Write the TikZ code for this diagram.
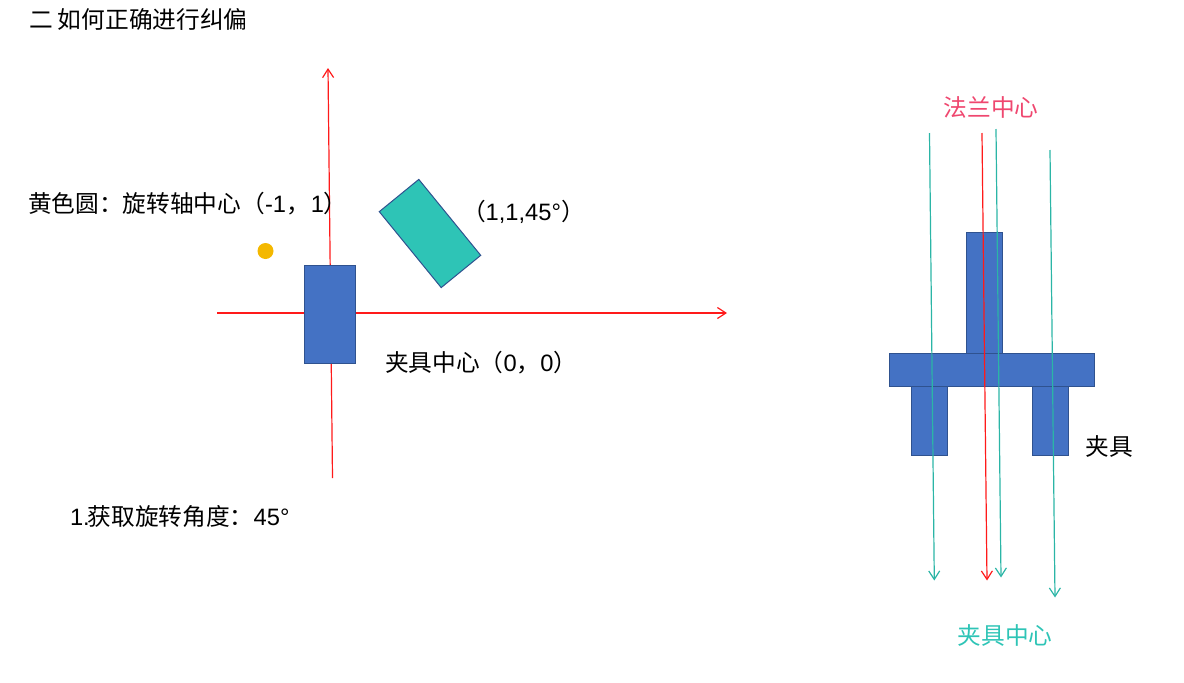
\documentclass[tikz,border=0pt]{standalone}
\usepackage{fontspec}
\setmainfont{Liberation Sans}
\newfontfamily\cjk{Noto Sans CJK SC}
\usetikzlibrary{arrows.meta}
\definecolor{axisred}{HTML}{FF1A1A}
\definecolor{partblue}{HTML}{4472C4}
\definecolor{partedge}{HTML}{2F528F}
\definecolor{tealfill}{HTML}{2EC4B6}
\definecolor{tealline}{HTML}{2BB5A6}
\definecolor{dotyellow}{HTML}{F4B800}
\definecolor{flangered}{HTML}{EF476F}
\tikzset{
  x=1pt,y=-1pt,
  part/.style={draw=partedge,fill=partblue,line width=1pt,inner sep=0,outer sep=0},
  redarrow/.style={draw=axisred,line width=1.2pt,-{Straight Barb[length=8.5pt,width=11pt,line width=1.2pt]}},
  tealarrow/.style={draw=tealline,line width=1.2pt,-{Straight Barb[length=8.5pt,width=11pt,line width=1.2pt]}},
  label/.style={inner sep=0,outer sep=0,anchor=west,text=black,font=\fontsize{23.7}{24}\selectfont},
}
\begin{document}
\begin{tikzpicture}
\useasboundingbox (0,0) rectangle (1184,683);
% left axes
\coordinate (vs) at (332.5,478);
\coordinate (ve) at (328,68);
\coordinate (hs) at (217,313);
\coordinate (he) at (727,313);
\draw[redarrow] (vs) -- (ve);
\draw[redarrow] (hs) -- (he);
\node[part,minimum width=51.5pt,minimum height=98pt] (clamp) at (330,314) {};
\node[draw=partedge,fill=tealfill,line width=1pt,inner sep=0,minimum width=98pt,minimum height=51pt,rotate=-50.8] (target) at (430,233.5) {};
\node[circle,fill=dotyellow,inner sep=0,minimum size=16pt] (dot) at (265.5,251) {};
% left labels
\node[label] (title) at (29,19) {{\cjk 二 如何正确进行纠偏}};
\node[label] (yl) at (28,204) {{\cjk 黄色圆：旋转轴中心（}-1{\cjk ，}\hspace{1pt}1{\cjk ）}};
\node[label] (tl) at (462,212) {{\cjk （}1,1,45°{\cjk ）}};
\node[label] (cl) at (385,363) {{\cjk 夹具中心（}0{\cjk ，}0{\cjk ）}};
\node[label] (al) at (70,517) {1.\hspace{-2pt}{\cjk 获取旋转角度：}45°};
% right parts
\node[part,minimum width=36pt,minimum height=121pt] (stem) at (984,292.5) {};
\node[part,minimum width=205pt,minimum height=33pt] (bar) at (991.5,369.5) {};
\node[part,minimum width=36pt,minimum height=69pt] (legl) at (929,420.5) {};
\node[part,minimum width=36pt,minimum height=69pt] (legr) at (1050,420.5) {};
% right arrows
\coordinate (a1s) at (929.5,133); \coordinate (a1e) at (934.3,580.5);
\coordinate (a2s) at (982,133); \coordinate (a2e) at (987,580.5);
\coordinate (a3s) at (996,129); \coordinate (a3e) at (1001,577.5);
\coordinate (a4s) at (1050,150); \coordinate (a4e) at (1055,597.5);
\draw[tealarrow] (a1s) -- (a1e);
\draw[redarrow] (a2s) -- (a2e);
\draw[tealarrow] (a3s) -- (a3e);
\draw[tealarrow] (a4s) -- (a4e);
% right labels
\node[label,text=flangered,anchor=center] (fl) at (991,107) {{\cjk 法兰中心}};
\node[label,anchor=center] (jl) at (1109,447) {{\cjk 夹具}};
\node[label,text=tealfill,anchor=center] (jc) at (1005,635) {{\cjk 夹具中心}};
\end{tikzpicture}
\end{document}
